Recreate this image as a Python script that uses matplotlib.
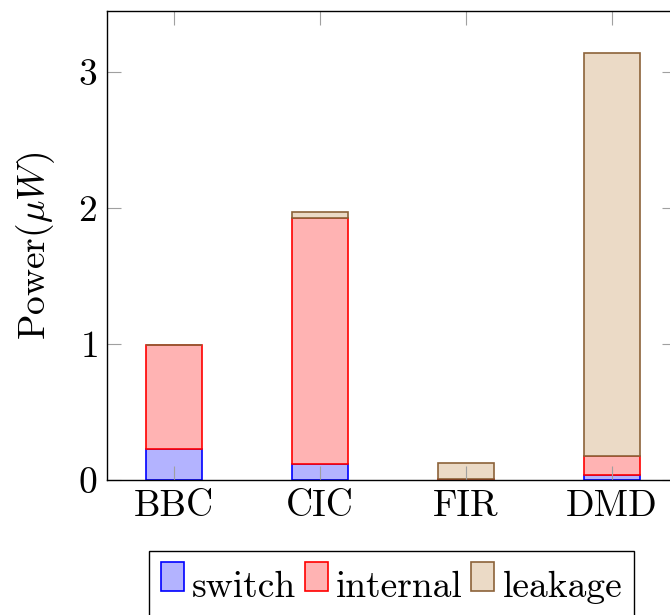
import numpy as np
import matplotlib.pyplot as plt
from matplotlib.patches import Rectangle

plt.rcParams['font.family'] = 'serif'
plt.rcParams['font.serif'] = ['cmr10', 'DejaVu Serif']
plt.rcParams['mathtext.fontset'] = 'cm'
plt.rcParams['axes.formatter.use_mathtext'] = True

# data (uW)
designs = ['BBC', 'CIC', 'FIR', 'DMD']
switch = [0.23, 0.12, 0.003, 0.035]
internal = [0.76, 1.81, 0.004, 0.14]
leakage = [0.006, 0.04, 0.118, 2.965]

fig = plt.figure(figsize=(6.7, 6.15), dpi=100)
ax = fig.add_axes([0.1597, 0.2195, 0.8493, 0.7625])

x = np.arange(len(designs))
w = 0.385
b1 = np.array(switch)
b2 = b1 + np.array(internal)

ax.bar(x, switch, w, color='#b3b3ff', edgecolor='blue', lw=1.2, label='switch')
ax.bar(x, internal, w, bottom=b1, color='#ffb3b3', edgecolor='red', lw=1.2, label='internal')
ax.bar(x, leakage, w, bottom=b2, color='#ebdac6', edgecolor='#8c6239', lw=1.2, label='leakage')

ax.set_xlim(-0.46, 3.44)
ax.set_ylim(0, 3.45)
ax.set_xticks(x)
ax.set_xticklabels(designs)
ax.set_yticks([0, 1, 2, 3])
ax.tick_params(axis='both', direction='in', length=10, width=0.8, color='#a0a0a0',
               top=True, right=True, labelsize=27, pad=7)
for s in ax.spines.values():
    s.set_linewidth(1.0)
ax.set_ylabel(r'Power$(\mu W)$', fontsize=27, labelpad=15)

leg = ax.legend(loc='upper center', bbox_to_anchor=(0.5, -0.151), borderaxespad=0, ncol=3,
                fontsize=27, frameon=False, handlelength=0.62, handleheight=0.8,
                handletextpad=0.22, columnspacing=0.22, borderpad=0.3)
# text sits on a lower baseline than the boxes, like pgfplots
for t in leg.get_texts():
    t.set_y(-8)

# draw the legend frame by hand so it runs past the bottom edge
fig.canvas.draw()
bb = leg.get_window_extent()
fig.add_artist(Rectangle((bb.x0, bb.y0 - 40), bb.width, bb.height + 40,
                         transform=None, fill=False, edgecolor='black', lw=1.0,
                         zorder=0))

fig.savefig('out.png', dpi=100)
